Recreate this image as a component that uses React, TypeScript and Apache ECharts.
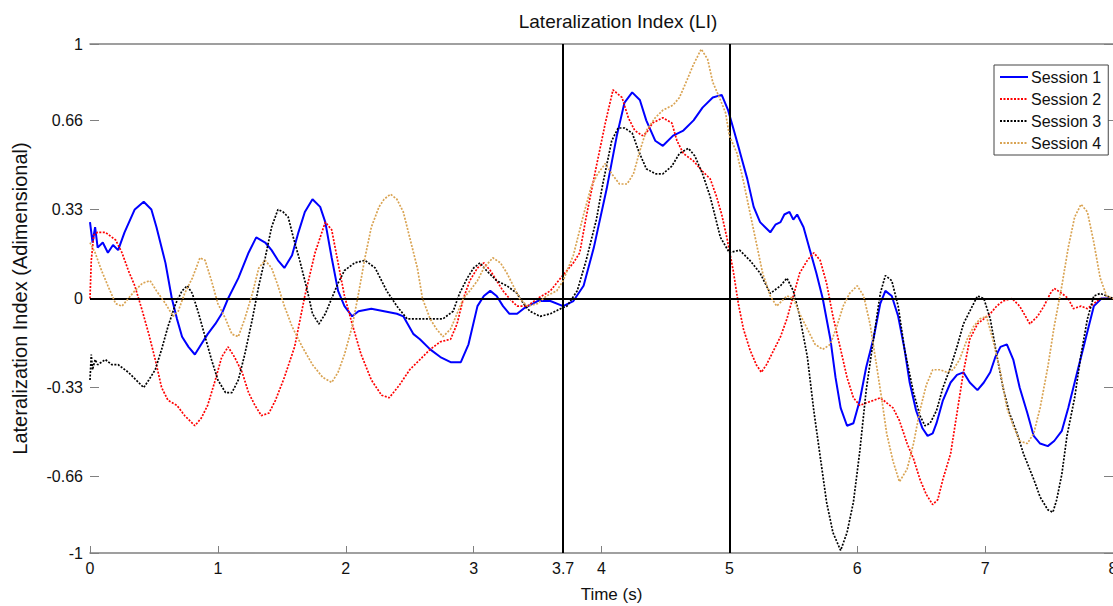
import React, { useEffect, useRef } from "react";
import * as echarts from "echarts";

const FONT = "Arial, 'Liberation Sans', sans-serif";

const sessionNames = ["Session 1", "Session 2", "Session 3", "Session 4"];
const sessionColors = ["#0000FF", "#FF0000", "#000000", "#D9A352"];

const xTickValues = [0, 1, 2, 3, 4, 5, 6, 7, 8];
const xLabelValues = [0, 1, 2, 3, 3.7, 4, 5, 6, 7, 8];
const yTickValues = [-1, -0.7, -0.35, 0, 0.35, 0.7, 1];
const yTickLabels = ["-1", "-0.66", "-0.33", "0", "0.33", "0.66", "1"];
const markerTimes = [3.7, 5];

const session1 = [
  [0, 0.3], [0.02, 0.22], [0.04, 0.28], [0.06, 0.2], [0.1, 0.22], [0.14, 0.18], [0.18, 0.21], [0.22, 0.19],
  [0.27, 0.26], [0.35, 0.35], [0.42, 0.38], [0.48, 0.35], [0.52, 0.28], [0.59, 0.14], [0.64, 0.0], [0.68, -0.08],
  [0.72, -0.15], [0.77, -0.19], [0.82, -0.22], [0.87, -0.18], [0.92, -0.14], [0.98, -0.1], [1.03, -0.06], [1.08, 0.0],
  [1.16, 0.08], [1.24, 0.18], [1.3, 0.24], [1.37, 0.22], [1.42, 0.19], [1.47, 0.15], [1.52, 0.12], [1.58, 0.17],
  [1.63, 0.26], [1.68, 0.34], [1.74, 0.39], [1.8, 0.36], [1.84, 0.3], [1.89, 0.16], [1.94, 0.03], [1.99, -0.03],
  [2.05, -0.07], [2.1, -0.05], [2.2, -0.04], [2.3, -0.05], [2.4, -0.06], [2.45, -0.07], [2.53, -0.14], [2.58, -0.16],
  [2.66, -0.2], [2.74, -0.23], [2.82, -0.25], [2.9, -0.25], [2.96, -0.18], [3.03, -0.03], [3.08, 0.01], [3.13, 0.03],
  [3.18, 0.01], [3.23, -0.03], [3.28, -0.06], [3.34, -0.06], [3.39, -0.04], [3.5, -0.01], [3.6, -0.01], [3.7, -0.03],
  [3.78, -0.01], [3.86, 0.05], [3.94, 0.2], [4.04, 0.43], [4.12, 0.64], [4.18, 0.77], [4.24, 0.81], [4.3, 0.78],
  [4.35, 0.7], [4.42, 0.62], [4.48, 0.6], [4.56, 0.64], [4.64, 0.66], [4.72, 0.7], [4.79, 0.75], [4.87, 0.79],
  [4.94, 0.8], [4.99, 0.74], [5.03, 0.67], [5.08, 0.58], [5.14, 0.47], [5.19, 0.36], [5.24, 0.3], [5.28, 0.28],
  [5.32, 0.26], [5.36, 0.29], [5.4, 0.3], [5.43, 0.33], [5.47, 0.34], [5.5, 0.31], [5.53, 0.33], [5.58, 0.28],
  [5.63, 0.19], [5.68, 0.1], [5.73, 0.0], [5.79, -0.16],
  [5.83, -0.31], [5.87, -0.43], [5.92, -0.5], [5.97, -0.49], [6.02, -0.4], [6.07, -0.27], [6.13, -0.15], [6.18, -0.02],
  [6.22, 0.03], [6.27, 0.01], [6.32, -0.07], [6.37, -0.2], [6.41, -0.33], [6.46, -0.44], [6.51, -0.51], [6.55, -0.54],
  [6.59, -0.53], [6.62, -0.49], [6.67, -0.4], [6.73, -0.33], [6.78, -0.3], [6.83, -0.29], [6.88, -0.33], [6.94, -0.36],
  [6.99, -0.33], [7.04, -0.29], [7.08, -0.23], [7.12, -0.19], [7.17, -0.18], [7.22, -0.24], [7.27, -0.35], [7.33, -0.45],
  [7.38, -0.54], [7.43, -0.57], [7.49, -0.58], [7.54, -0.56], [7.6, -0.52], [7.65, -0.43], [7.7, -0.33], [7.75, -0.23],
  [7.81, -0.11], [7.85, -0.03], [7.91, 0.0], [8, 0.0],
];

const session2 = [
  [0, 0.0], [0.01, 0.15], [0.03, 0.25], [0.06, 0.26], [0.12, 0.26], [0.2, 0.23], [0.25, 0.18], [0.3, 0.11],
  [0.35, 0.05], [0.41, -0.05], [0.46, -0.14], [0.51, -0.24], [0.56, -0.35], [0.61, -0.4], [0.68, -0.42], [0.74, -0.46],
  [0.82, -0.5], [0.87, -0.47], [0.92, -0.42], [0.98, -0.32], [1.03, -0.23], [1.08, -0.19], [1.13, -0.23], [1.19, -0.29],
  [1.24, -0.37], [1.29, -0.42], [1.34, -0.46], [1.4, -0.45], [1.45, -0.4], [1.52, -0.31], [1.6, -0.19], [1.68, 0.01],
  [1.76, 0.18], [1.84, 0.3], [1.89, 0.27], [1.94, 0.14], [1.99, 0.01], [2.05, -0.1], [2.12, -0.22], [2.2, -0.32],
  [2.28, -0.38], [2.34, -0.39], [2.42, -0.34], [2.5, -0.28], [2.58, -0.24], [2.66, -0.2], [2.74, -0.17], [2.82, -0.16],
  [2.87, -0.1], [2.92, 0.0], [2.97, 0.07], [3.03, 0.12], [3.08, 0.14], [3.13, 0.11], [3.18, 0.07], [3.23, 0.03],
  [3.28, 0.0], [3.34, -0.03], [3.42, -0.03], [3.5, 0.0], [3.6, 0.03], [3.68, 0.08], [3.78, 0.14], [3.83, 0.18],
  [3.88, 0.32], [3.96, 0.52], [4.03, 0.69], [4.09, 0.82], [4.16, 0.79], [4.21, 0.71], [4.26, 0.66], [4.32, 0.64],
  [4.35, 0.65], [4.4, 0.69], [4.48, 0.71], [4.55, 0.69], [4.59, 0.62], [4.64, 0.57], [4.72, 0.54], [4.79, 0.5],
  [4.85, 0.47], [4.9, 0.4], [4.94, 0.33], [4.98, 0.24], [5.03, 0.11], [5.07, -0.02], [5.11, -0.12], [5.16, -0.2],
  [5.21, -0.26], [5.25, -0.29], [5.29, -0.26], [5.35, -0.2], [5.4, -0.15], [5.45, -0.08], [5.5, 0.01], [5.55, 0.1],
  [5.61, 0.15], [5.66, 0.18], [5.71, 0.15], [5.76, 0.06], [5.81, -0.07], [5.87, -0.2], [5.92, -0.31], [5.97, -0.39],
  [6.02, -0.42], [6.07, -0.41], [6.13, -0.4], [6.18, -0.39], [6.23, -0.41], [6.28, -0.43], [6.33, -0.48], [6.39, -0.57],
  [6.44, -0.63], [6.49, -0.71], [6.54, -0.77], [6.59, -0.81], [6.63, -0.79], [6.67, -0.71], [6.73, -0.61], [6.78, -0.45],
  [6.83, -0.29], [6.88, -0.16], [6.94, -0.1], [6.99, -0.08], [7.04, -0.06], [7.09, -0.03], [7.14, -0.01], [7.21, 0.0],
  [7.27, -0.03], [7.35, -0.1], [7.41, -0.07], [7.46, -0.03], [7.51, 0.02], [7.54, 0.04], [7.6, 0.02], [7.65, 0.0],
  [7.69, -0.04], [7.75, -0.03], [7.8, -0.04], [7.85, -0.02], [7.9, 0.0], [8, 0.0],
];

const session3 = [
  [0, -0.32], [0.01, -0.22], [0.02, -0.28], [0.04, -0.24], [0.06, -0.26], [0.12, -0.24], [0.17, -0.26], [0.22, -0.26],
  [0.3, -0.29], [0.38, -0.33], [0.42, -0.35], [0.46, -0.32], [0.51, -0.28], [0.56, -0.2], [0.61, -0.11], [0.67, -0.02],
  [0.72, 0.03], [0.76, 0.05], [0.8, 0.02], [0.85, -0.06], [0.9, -0.15], [0.95, -0.24], [1.0, -0.32], [1.06, -0.37],
  [1.11, -0.37], [1.16, -0.32], [1.21, -0.22], [1.27, -0.08], [1.32, 0.05], [1.37, 0.16], [1.42, 0.28], [1.47, 0.35],
  [1.51, 0.34], [1.55, 0.32], [1.59, 0.24], [1.64, 0.15], [1.7, 0.03], [1.74, -0.06], [1.79, -0.1], [1.84, -0.06],
  [1.89, 0.0], [1.94, 0.06], [1.99, 0.11], [2.07, 0.14], [2.15, 0.15], [2.23, 0.12], [2.32, 0.03], [2.4, -0.03],
  [2.48, -0.08], [2.58, -0.08], [2.68, -0.08], [2.76, -0.08], [2.84, -0.05], [2.89, 0.02], [2.95, 0.08], [3.0, 0.12],
  [3.05, 0.14], [3.1, 0.11], [3.18, 0.07], [3.26, 0.05], [3.34, 0.02], [3.39, -0.02], [3.44, -0.05], [3.52, -0.07],
  [3.6, -0.06], [3.68, -0.04], [3.73, -0.03], [3.81, 0.03], [3.88, 0.15], [3.96, 0.31], [4.01, 0.45], [4.08, 0.62],
  [4.13, 0.67], [4.18, 0.67], [4.24, 0.65], [4.29, 0.58], [4.35, 0.51], [4.42, 0.49], [4.48, 0.49], [4.55, 0.52],
  [4.61, 0.57], [4.68, 0.59], [4.73, 0.56], [4.79, 0.49], [4.85, 0.4], [4.93, 0.24], [5.0, 0.18], [5.08, 0.19],
  [5.16, 0.15], [5.24, 0.1], [5.32, 0.02], [5.4, 0.05], [5.45, 0.08], [5.5, 0.03], [5.55, -0.07], [5.61, -0.23],
  [5.66, -0.44], [5.71, -0.62], [5.76, -0.8], [5.81, -0.92], [5.87, -0.99], [5.92, -0.92], [5.97, -0.8], [6.02, -0.6],
  [6.07, -0.36], [6.13, -0.15], [6.18, 0.02], [6.22, 0.09], [6.27, 0.07], [6.32, -0.03], [6.37, -0.2], [6.44, -0.37],
  [6.49, -0.46], [6.53, -0.5], [6.57, -0.49], [6.62, -0.44], [6.67, -0.35], [6.73, -0.27], [6.78, -0.19], [6.83, -0.1],
  [6.88, -0.05], [6.94, 0.01], [6.99, 0.0], [7.04, -0.08], [7.09, -0.22], [7.14, -0.35], [7.19, -0.45], [7.25, -0.53],
  [7.3, -0.61], [7.38, -0.71], [7.43, -0.78], [7.49, -0.83], [7.53, -0.84], [7.56, -0.79], [7.6, -0.69], [7.64, -0.54],
  [7.7, -0.39], [7.75, -0.22], [7.8, -0.08], [7.85, 0.01], [7.9, 0.02], [8, 0.0],
];

const session4 = [
  [0, 0.22], [0.04, 0.18], [0.09, 0.11], [0.14, 0.05], [0.2, -0.02], [0.25, -0.03], [0.3, 0.0], [0.35, 0.03],
  [0.41, 0.06], [0.47, 0.07], [0.52, 0.03], [0.59, -0.02], [0.65, -0.07], [0.69, -0.05], [0.74, 0.02], [0.8, 0.08],
  [0.86, 0.16], [0.9, 0.15], [0.95, 0.07], [1.0, -0.02], [1.06, -0.08], [1.11, -0.14], [1.16, -0.15], [1.21, -0.08],
  [1.27, 0.02], [1.32, 0.12], [1.37, 0.15], [1.42, 0.12], [1.47, 0.05], [1.52, -0.03], [1.58, -0.11], [1.66, -0.19],
  [1.74, -0.26], [1.82, -0.31], [1.89, -0.33], [1.94, -0.29], [1.99, -0.22], [2.05, -0.11], [2.1, 0.02], [2.15, 0.16],
  [2.2, 0.28], [2.26, 0.36], [2.3, 0.39], [2.35, 0.41], [2.4, 0.39], [2.45, 0.34], [2.5, 0.24], [2.56, 0.12],
  [2.6, 0.0], [2.66, -0.08], [2.71, -0.12], [2.76, -0.15], [2.82, -0.12], [2.87, -0.06], [2.92, 0.0], [2.97, 0.03],
  [3.03, 0.07], [3.08, 0.12], [3.15, 0.16], [3.21, 0.14], [3.26, 0.1], [3.31, 0.05], [3.36, 0.0], [3.42, -0.03],
  [3.5, -0.02], [3.57, 0.01], [3.65, 0.03], [3.7, 0.07], [3.78, 0.17], [3.86, 0.33], [3.92, 0.44], [3.97, 0.49],
  [4.03, 0.53], [4.08, 0.49], [4.14, 0.45], [4.2, 0.45], [4.25, 0.49], [4.3, 0.58], [4.35, 0.66], [4.42, 0.71],
  [4.48, 0.74], [4.56, 0.76], [4.61, 0.79], [4.67, 0.86], [4.72, 0.92], [4.78, 0.98], [4.83, 0.94], [4.87, 0.85],
  [4.93, 0.78], [4.97, 0.73], [5.0, 0.64], [5.06, 0.57], [5.11, 0.46], [5.16, 0.34], [5.21, 0.22], [5.26, 0.1],
  [5.32, 0.01], [5.37, -0.03], [5.45, 0.01], [5.5, 0.0], [5.55, -0.06], [5.61, -0.12], [5.67, -0.18], [5.73, -0.2],
  [5.79, -0.18], [5.84, -0.11], [5.89, -0.03], [5.94, 0.02], [6.0, 0.05], [6.05, 0.01], [6.1, -0.1], [6.15, -0.26],
  [6.19, -0.39], [6.23, -0.53], [6.28, -0.64], [6.33, -0.72], [6.39, -0.67], [6.44, -0.57], [6.49, -0.44], [6.54, -0.34],
  [6.59, -0.28], [6.65, -0.28], [6.7, -0.29], [6.75, -0.28], [6.8, -0.24], [6.86, -0.16], [6.91, -0.11], [6.96, -0.08],
  [7.01, -0.07], [7.06, -0.16], [7.12, -0.29], [7.17, -0.43], [7.22, -0.5], [7.27, -0.56], [7.33, -0.57], [7.38, -0.53],
  [7.43, -0.43], [7.49, -0.27], [7.54, -0.11], [7.6, 0.05], [7.65, 0.2], [7.7, 0.32], [7.75, 0.37], [7.8, 0.34],
  [7.85, 0.22], [7.9, 0.08], [7.95, 0.01], [8, 0.0],
];

const sessionData = [session1, session2, session3, session4];

export default function App() {
  const ref = useRef<HTMLDivElement>(null);
  useEffect(() => {
    if (!ref.current) return;
    const chart = echarts.init(ref.current, null, { renderer: "svg" });
    const labelMap: Record<string, string> = {};
    yTickValues.forEach((v, i) => (labelMap[String(v)] = yTickLabels[i]));

    const lineSeries = sessionData.map((d, i) => ({
      name: sessionNames[i],
      type: "line",
      data: d,
      symbol: "none",
      showSymbol: false,
      xAxisIndex: 0,
      yAxisIndex: 0,
      lineStyle: {
        color: sessionColors[i],
        width: i === 0 ? 2 : 1.7,
        type: i === 0 ? "solid" : [2, 1.5],
      },
      itemStyle: { color: sessionColors[i] },
      z: 2 + i,
    }));

    const option: any = {
      animation: false,
      backgroundColor: "#ffffff",
      textStyle: { fontFamily: FONT },
      grid: { left: 90, top: 44, right: 0, bottom: 53, containLabel: false, outerBoundsMode: "none" },
      graphic: [
        {
          type: "text",
          x: 618,
          y: 21,
          style: {
            text: "Lateralization Index (LI)",
            fontSize: 19,
            fontFamily: FONT,
            fill: "#111",
            align: "center",
            verticalAlign: "middle",
          },
        },
      ],
      legend: {
        data: sessionNames,
        orient: "vertical",
        left: 994,
        top: 65,
        padding: [4, 7, 4, 5],
        itemGap: 6,
        itemWidth: 28,
        itemHeight: 16,
        backgroundColor: "#fff",
        borderColor: "#444",
        borderWidth: 1,
        borderRadius: 0,
        itemStyle: { opacity: 0, borderWidth: 0 },
        textStyle: { fontSize: 16, fontFamily: FONT, color: "#111", padding: [0, 0, 0, -2] },
      },
      xAxis: [
        {
          type: "value",
          min: 0,
          max: 8,
          position: "bottom",
          name: "Time (s)",
          nameLocation: "middle",
          nameGap: 33,
          nameTextStyle: { fontSize: 17, fontFamily: FONT, color: "#111", padding: [0, 0, 0, 20] },
          axisLine: { show: true, onZero: false, lineStyle: { color: "#808080", width: 1.5 } },
          axisTick: { show: true, inside: true, length: 7, customValues: xTickValues, lineStyle: { color: "#808080" } },
          axisLabel: {
            show: true,
            customValues: xLabelValues,
            margin: 7,
            fontSize: 16,
            fontFamily: FONT,
            color: "#111",
            formatter: (v: number) => String(v),
          },
          splitLine: { show: false },
        },
        {
          type: "value",
          min: 0,
          max: 8,
          position: "top",
          axisLine: { show: true, onZero: false, lineStyle: { color: "#808080", width: 1.5 } },
          axisTick: { show: false },
          axisLabel: { show: false },
          splitLine: { show: false },
        },
      ],
      yAxis: [
        {
          type: "value",
          min: -1,
          max: 1,
          position: "left",
          name: "Lateralization Index (Adimensional)",
          nameLocation: "middle",
          nameGap: 60,
          nameRotate: 90,
          nameTextStyle: { fontSize: 20, fontFamily: FONT, color: "#111" },
          axisLine: { show: false, onZero: false },
          axisTick: { show: true, inside: true, length: 9, customValues: yTickValues, lineStyle: { color: "#808080" } },
          axisLabel: {
            show: true,
            customValues: yTickValues,
            margin: 7,
            fontSize: 16,
            fontFamily: FONT,
            color: "#111",
            formatter: (v: number) => labelMap[String(v)] ?? String(v),
          },
          splitLine: { show: false },
        },
        {
          type: "value",
          min: -1,
          max: 1,
          position: "right",
          axisLine: { show: false, onZero: false },
          axisTick: { show: true, inside: true, length: 9, customValues: yTickValues, lineStyle: { color: "#808080" } },
          axisLabel: { show: false },
          splitLine: { show: false },
        },
      ],
      series: [
        ...lineSeries,
        {
          name: "markers",
          type: "line",
          data: [],
          xAxisIndex: 0,
          yAxisIndex: 0,
          symbol: "none",
          z: 10,
          markLine: {
            silent: true,
            symbol: ["none", "none"],
            label: { show: false },
            lineStyle: { color: "#000", width: 2, type: "solid" },
            data: [...markerTimes.map((t) => ({ xAxis: t })), { yAxis: 0 }],
          },
        },
      ],
    };
    chart.setOption(option);
    return () => chart.dispose();
  }, []);
  return (
    <div
      ref={ref}
      style={{ position: "fixed", left: 0, top: 0, width: 1113, height: 606, background: "#fff" }}
    />
  );
}
